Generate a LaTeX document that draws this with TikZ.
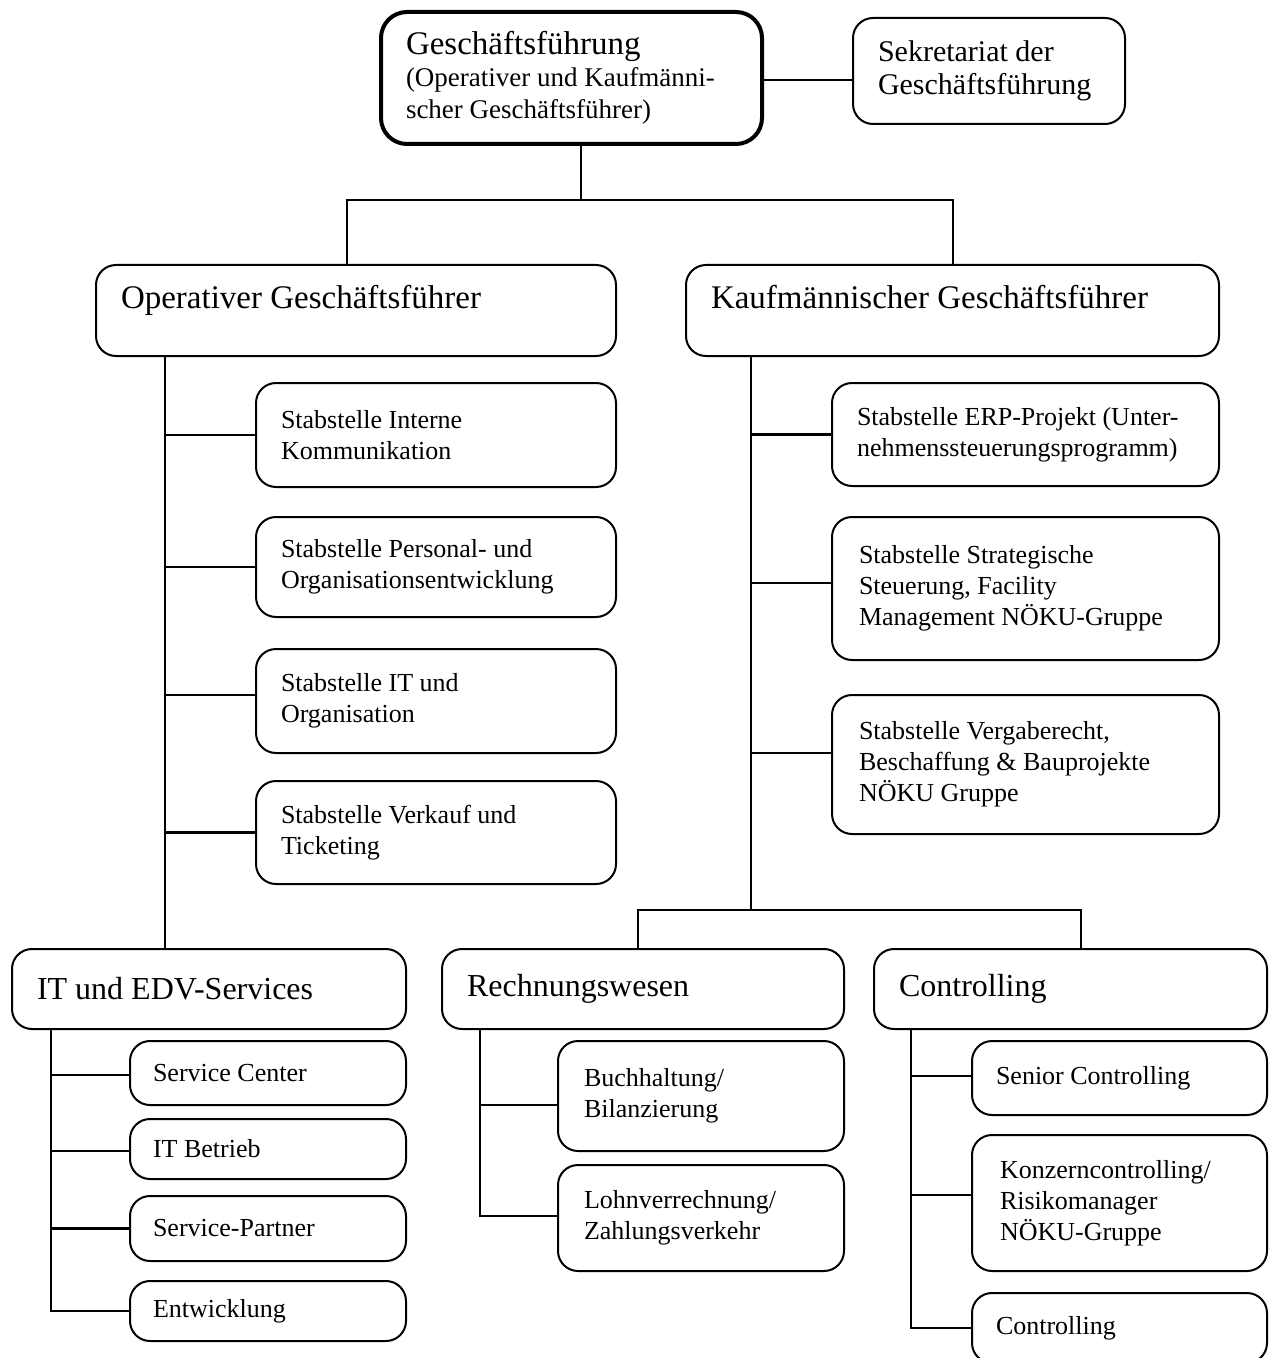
\documentclass[tikz,border=0pt]{standalone}
\usepackage{fontspec}
\setmainfont{Liberation Serif}
\begin{document}
\begin{tikzpicture}[x=0.5pt,y=-0.5pt,
  box/.style={draw=black,line width=1pt,rounded corners=10pt,anchor=north west,
    inner xsep=12.5pt,inner ysep=0pt,align=flush left,
    font=\fontsize{13}{15.5}\selectfont},
  head/.style={box,font=\fontsize{16}{19}\selectfont},
  conn/.style={draw=black,line width=1.2pt}]
\useasboundingbox (0,0) rectangle (1272,1358);
\clip (0,0) rectangle (1272,1358);
\fill[white] (0,0) rectangle (1272,1358);
% top
\node[box,line width=2pt,rounded corners=13pt,minimum width=190.5pt,minimum height=66pt,text width=165.5pt,
  font=\fontsize{13.5}{16}\selectfont] (gf) at (379,10)
  {{\fontsize{16.5}{16}\selectfont Geschäftsführung}\\(Operativer und Kaufmänni-\\scher Geschäftsführer)};
\node[box,minimum width=136pt,minimum height=53pt,text width=111pt,font=\fontsize{15}{16.5}\selectfont] (sek) at (852,17)
  {Sekretariat der\\Geschäftsführung};
% second level
\node[box,minimum width=260pt,minimum height=45.5pt,text width=235pt,font=\fontsize{16.5}{19}\selectfont,text depth=14pt] (opgf) at (95,264)
  {Operativer Geschäftsführer};
\node[box,minimum width=266.5pt,minimum height=45.5pt,text width=241.5pt,font=\fontsize{16.5}{19}\selectfont,text depth=14pt] (kgf) at (685,264)
  {Kaufmännischer Geschäftsführer};
% Stabstellen left
\node[box,minimum width=180pt,minimum height=52pt,text width=155pt] (s1) at (255,382) {Stabstelle Interne\\Kommunikation};
\node[box,minimum width=180pt,minimum height=50pt,text width=155pt] (s2) at (255,516) {Stabstelle Personal- und\\Organisationsentwicklung};
\node[box,minimum width=180pt,minimum height=52pt,text width=155pt] (s3) at (255,648) {Stabstelle IT und\\Organisation};
\node[box,minimum width=180pt,minimum height=51.5pt,text width=155pt] (s4) at (255,780) {Stabstelle Verkauf und\\Ticketing};
% Stabstellen right
\node[box,minimum width=193.5pt,minimum height=51.5pt,text width=168.5pt] (e1) at (831,382) {Stabstelle ERP-Projekt (Unter-\\nehmenssteuerungsprogramm)};
\node[box,minimum width=193.5pt,minimum height=71.5pt,text width=168.5pt] (e2) at (831,516) {\hspace*{1pt}Stabstelle Strategische\\\hspace*{1pt}Steuerung, Facility\\\hspace*{1pt}Management NÖKU-Gruppe};
\node[box,minimum width=193.5pt,minimum height=69.5pt,text width=168.5pt] (e3) at (831,694) {\hspace*{1pt}Stabstelle Vergaberecht,\\\hspace*{1pt}Beschaffung \& Bauprojekte\\\hspace*{1pt}NÖKU Gruppe};
% third level
\node[head,minimum width=197pt,minimum height=40pt,text width=172pt] (it) at (11,948) {IT und EDV-Services};
\node[head,minimum width=201pt,minimum height=40pt,text width=176pt] (rw) at (441,948) {Rechnungswesen};
\node[head,minimum width=196.5pt,minimum height=40pt,text width=171.5pt] (co) at (873,948) {Controlling};
% IT sub
\node[box,inner xsep=11.5pt,minimum width=138pt,minimum height=32pt,text width=115pt] (i1) at (129,1040) {Service Center};
\node[box,inner xsep=11.5pt,minimum width=138pt,minimum height=30pt,text width=115pt] (i2) at (129,1118) {IT Betrieb};
\node[box,inner xsep=11.5pt,minimum width=138pt,minimum height=32.5pt,text width=115pt] (i3) at (129,1195) {Service-Partner};
\node[box,inner xsep=11.5pt,minimum width=138pt,minimum height=30pt,text width=115pt] (i4) at (129,1280) {Entwicklung};
% RW sub
\node[box,inner xsep=13pt,minimum width=143pt,minimum height=55pt,text width=117pt] (r1) at (557,1040) {Buchhaltung/\\Bilanzierung};
\node[box,inner xsep=13pt,minimum width=143pt,minimum height=53pt,text width=117pt] (r2) at (557,1164) {Lohnverrechnung/\\Zahlungsverkehr};
% CO sub
\node[box,inner xsep=12pt,minimum width=147.5pt,minimum height=37pt,text width=123.5pt] (c1) at (971,1040) {Senior Controlling};
\node[box,inner xsep=14pt,minimum width=147.5pt,minimum height=68pt,text width=119.5pt] (c2) at (971,1134) {Konzerncontrolling/\\Risikomanager\\NÖKU-Gruppe};
\node[box,inner xsep=12pt,minimum width=147.5pt,minimum height=35pt,text width=123.5pt] (c3) at (971,1292) {Controlling};
% coordinates
\coordinate (j1) at (581,200);
\coordinate (bL) at (347,200);
\coordinate (bR) at (953,200);
\coordinate (tL) at (165,0);
\coordinate (tR) at (751,0);
\coordinate (bB) at (751,910);
\coordinate (bBL) at (638,910);
\coordinate (bBR) at (1081,910);
\coordinate (tI) at (51,0);
\coordinate (tW) at (480,0);
\coordinate (tC) at (911,0);
% connectors
\draw[conn] ([yshift=-1pt]gf.east) -- ([yshift=-1pt]gf.east -| sek.west);
\draw[conn] (gf.south -| j1) -- (j1);
\draw[conn] (opgf.north -| bL) -- (bL) -- (bR) -- (kgf.north -| bR);
\draw[conn] (opgf.south -| tL) -- (it.north -| tL);
\draw[conn] (s1.west) -- (s1.west -| tL);
\draw[conn] (s2.west) -- (s2.west -| tL);
\draw[conn] ([yshift=3pt]s3.west) -- ([yshift=3pt]s3.west -| tL);
\draw[conn] (s4.west) -- (s4.west -| tL);
\draw[conn] (kgf.south -| tR) -- (bB);
\draw[conn] (e1.west) -- (e1.west -| tR);
\draw[conn] ([yshift=2.75pt]e2.west) -- ([yshift=2.75pt]e2.west -| tR);
\draw[conn] ([yshift=5.75pt]e3.west) -- ([yshift=5.75pt]e3.west -| tR);
\draw[conn] (rw.north -| bBL) -- (bBL) -- (bBR) -- (co.north -| bBR);
\draw[conn] (it.south -| tI) -- (i4.west -| tI) -- (i4.west);
\draw[conn] ([yshift=-1pt]i1.west) -- ([yshift=-1pt]i1.west -| tI);
\draw[conn] ([yshift=-1pt]i2.west) -- ([yshift=-1pt]i2.west -| tI);
\draw[conn] (i3.west) -- (i3.west -| tI);
\draw[conn] (rw.south -| tW) -- ([yshift=1pt]r2.west -| tW) -- ([yshift=1pt]r2.west);
\draw[conn] ([yshift=-4.5pt]r1.west) -- ([yshift=-4.5pt]r1.west -| tW);
\draw[conn] (co.south -| tC) -- (c3.west -| tC) -- (c3.west);
\draw[conn] ([yshift=1pt]c1.west) -- ([yshift=1pt]c1.west -| tC);
\draw[conn] ([yshift=4pt]c2.west) -- ([yshift=4pt]c2.west -| tC);
\end{tikzpicture}
\end{document}
